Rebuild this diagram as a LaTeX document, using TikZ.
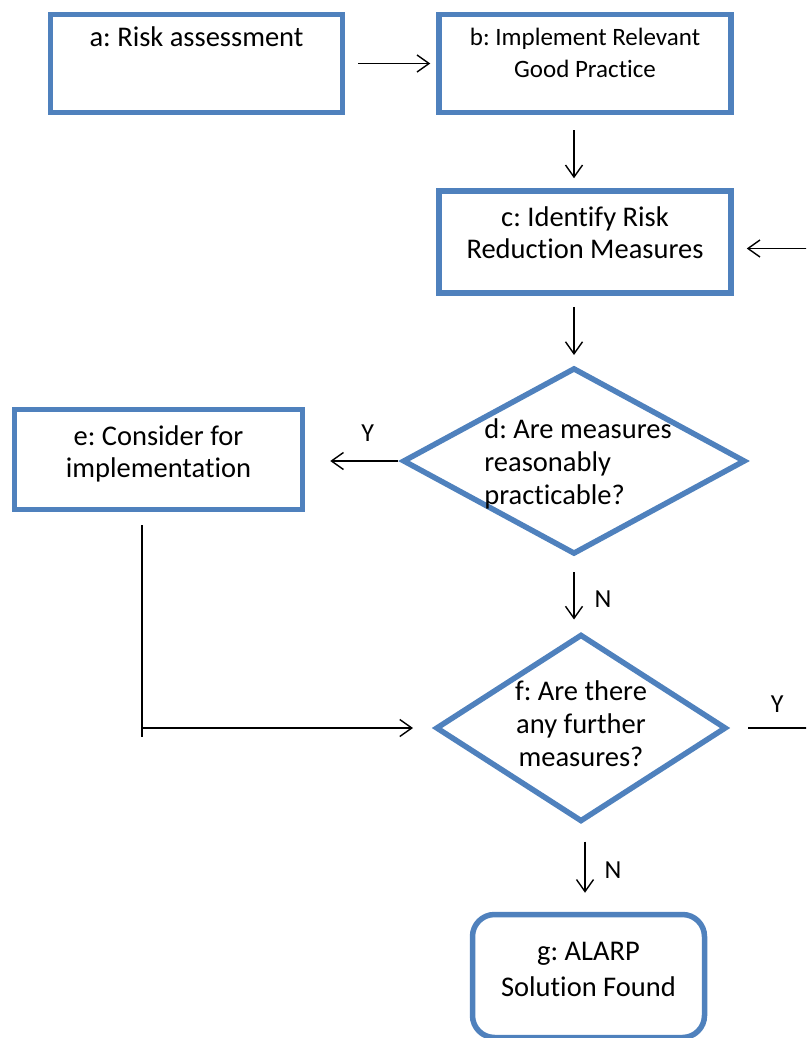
\documentclass[tikz,border=0pt]{standalone}
\usepackage{fontspec}
\setmainfont{Carlito}[Ligatures={NoCommon,NoContextual}]
\usetikzlibrary{arrows.meta,positioning,shapes.geometric}
\frenchspacing

\definecolor{boxblue}{HTML}{4F81BD}

\begin{document}
\begin{tikzpicture}[
  x=1pt, y=-1pt,
  >={Straight Barb[length=12pt,width=17pt]},
  every node/.style={font=\fontsize{28.5}{32}\selectfont},
  box/.style={draw=boxblue, line width=5.5pt, rectangle, align=center,
              minimum width=292pt, minimum height=98pt},
  decision/.style={draw=boxblue, line width=5.5pt, diamond, inner sep=0pt},
  arrow/.style={->, line width=1.4pt},
  plain/.style={line width=1.4pt},
  yn/.style={inner sep=2pt, font=\fontsize{26}{30}\selectfont},
  node distance=73pt and 91pt
]
  \useasboundingbox (0,0) rectangle (806,1038);
  \clip (0,0) rectangle (806,1038);

  %--- nodes
  \node[box] (a) at (196.5,63.5) {a: Risk assessment\\[22pt]\mbox{}};
  \node[box, right=of a, font=\fontsize{25}{32}\selectfont]
        (b) {b: Implement Relevant\\Good Practice\\[-10pt]\mbox{}};
  \node[box, below=of b, minimum height=102pt]
        (c) {c: Identify Risk\\Reduction Measures\\[-13pt]\mbox{}};
  \node[decision, minimum width=342.5pt, minimum height=186.5pt,
        label={[align=left, xshift=4pt, yshift=-3pt, font=\fontsize{28.5}{33}\selectfont]center:{d: Are measures\\reasonably\\practicable?}}]
        (d) at (574,461) {};
  \node[box, minimum width=288pt, minimum height=100pt]
        (e) at (158.5,459.5) {e: Consider for\\implementation\\[-17pt]\mbox{}};
  \node[decision, minimum width=290.5pt, minimum height=187.5pt,
        label={[align=center, yshift=4pt, font=\fontsize{28.5}{33}\selectfont]center:{f: Are there\\any further\\measures?}}]
        (f) at (581,728) {};
  \node[box, rounded corners=22pt, minimum width=232pt, minimum height=123pt,
        font=\fontsize{28.5}{36}\selectfont]
        (g) at (588.5,976) {g: ALARP\\Solution Found\\[-22pt]\mbox{}};

  \coordinate (loop) at (820,0);

  %============ TOP ROW ============%
  % a -> b
  \draw[arrow, shorten <=13pt, shorten >=6pt] (a.east) -- (b.west);
  % b -> c
  \draw[arrow, shorten <=15pt, shorten >=10pt] (b.south -| d.north) -- (c.north -| d.north);
  % c -> d
  \draw[arrow, shorten <=11pt, shorten >=10pt] (c.south -| d.north) -- (d.north);

  %============ DECISIONS ============%
  % d -> e
  \draw[arrow, shorten <=2pt, shorten >=25pt] (d.west) -- node[yn, above=17pt, pos=0.34]{Y} (d.west -| e.east);
  % d -> f
  \draw[arrow, shorten <=15pt, shorten >=12pt] (d.south) -- node[yn, right=18pt, pos=0.57]{N} (f.north -| d.south);
  % e -> f
  \coordinate (ebend) at ([xshift=-16.5pt]e.south |- f.west);
  \draw[plain] ([xshift=-16.5pt, yshift=-13pt]e.south) -- ([yshift=-9pt]ebend);
  \draw[arrow, shorten >=20pt] (ebend) -- (f.west);
  % f -> g
  \draw[arrow, shorten <=17pt, shorten >=19pt] ([xshift=4pt]f.south) -- node[yn, right=17pt, pos=0.52]{N} ([xshift=4pt]f.south |- g.north);
  % f -> c (back loop)
  \draw[arrow, shorten <=19pt, shorten >=13pt] (f.east) -- node[yn, above=13pt, pos=0.53]{Y} (f.east -| loop)
       |- ([yshift=-6.5pt]c.east);

\end{tikzpicture}
\end{document}
